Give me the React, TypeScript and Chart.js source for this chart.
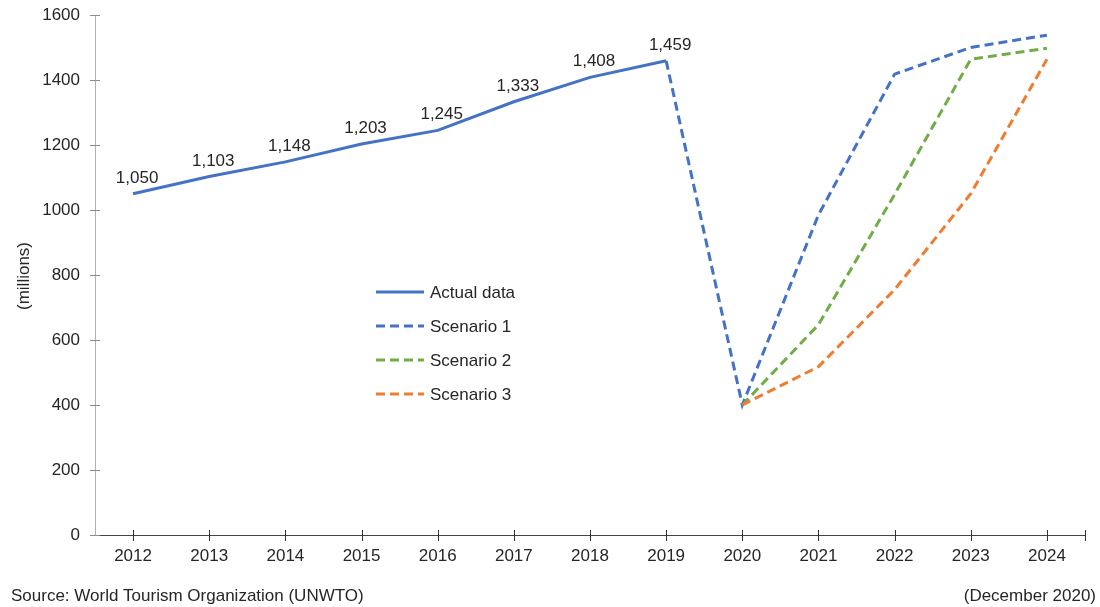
import React, { useEffect, useRef } from "react";
import { Chart, registerables } from "chart.js";

Chart.register(...registerables);

const years = ["2012", "2013", "2014", "2015", "2016", "2017", "2018", "2019", "2020", "2021", "2022", "2023", "2024"];
const actualData = [1050, 1103, 1148, 1203, 1245, 1333, 1408, 1459, null, null, null, null, null];
const scenario1 = [null, null, null, null, null, null, null, 1459, 400, 985, 1418, 1500, 1538];
const scenario2 = [null, null, null, null, null, null, null, null, 400, 647, 1048, 1464, 1498];
const scenario3 = [null, null, null, null, null, null, null, null, 400, 518, 755, 1050, 1464];
const seriesLabels = ["Actual data", "Scenario 1", "Scenario 2", "Scenario 3"];
const yTicks = [0, 200, 400, 600, 800, 1000, 1200, 1400, 1600];
const yTitle = "(millions)";
const sourceText = "Source: World Tourism Organization (UNWTO)";
const dateText = "(December 2020)";

const BLUE = "#4472C4";
const GREEN = "#70AD47";
const ORANGE = "#ED7D31";
const TEXT = "#262626";
const FONT_FAMILY = "'Liberation Sans', Arial, sans-serif";

const fmt = (v: number) => v.toLocaleString("en-US");

const extrasPlugin = {
  id: "extras",
  afterDraw(chart: any) {
    const ctx = chart.ctx as CanvasRenderingContext2D;
    const x = chart.scales.x;
    const y = chart.scales.y;
    const area = chart.chartArea;
    ctx.save();

    // y tick marks
    ctx.strokeStyle = "#8c8c8c";
    ctx.lineWidth = 1;
    yTicks.forEach((v) => {
      const py = Math.round(y.getPixelForValue(v)) + 0.5;
      ctx.beginPath();
      ctx.moveTo(area.left - 5, py);
      ctx.lineTo(area.left + 5, py);
      ctx.stroke();
    });

    // x tick marks
    ctx.strokeStyle = "#333";
    const xb = Math.round(area.bottom);
    const xPositions = years.map((_, i) => x.getPixelForValue(i));
    xPositions.push(area.right);
    xPositions.forEach((px) => {
      const rx = Math.round(px) + 0.5;
      ctx.beginPath();
      ctx.moveTo(rx, xb - 5);
      ctx.lineTo(rx, xb + 6);
      ctx.stroke();
    });

    // data labels for actual data
    ctx.fillStyle = TEXT;
    ctx.font = `17px ${FONT_FAMILY}`;
    ctx.textAlign = "center";
    ctx.textBaseline = "alphabetic";
    actualData.forEach((v, i) => {
      if (v == null) return;
      const px = x.getPixelForValue(i);
      const py = y.getPixelForValue(v);
      ctx.fillText(fmt(v), px + 4, py - 11);
    });

    // y title
    ctx.save();
    ctx.translate(24, 276);
    ctx.rotate(-Math.PI / 2);
    ctx.textAlign = "center";
    ctx.textBaseline = "middle";
    ctx.fillText(yTitle, 0, 0);
    ctx.restore();

    // legend
    const colors = [BLUE, BLUE, GREEN, ORANGE];
    const rowsY = [292, 326, 360, 394];
    seriesLabels.forEach((lab, i) => {
      const ly = rowsY[i];
      ctx.strokeStyle = colors[i];
      ctx.lineWidth = 3;
      ctx.setLineDash(i === 0 ? [] : [9, 5]);
      ctx.beginPath();
      ctx.moveTo(376, ly);
      ctx.lineTo(424, ly);
      ctx.stroke();
      ctx.setLineDash([]);
      ctx.fillStyle = TEXT;
      ctx.textAlign = "left";
      ctx.textBaseline = "middle";
      ctx.fillText(lab, 430, ly + 1);
    });

    // footer texts
    ctx.fillStyle = TEXT;
    ctx.textBaseline = "middle";
    ctx.textAlign = "left";
    ctx.fillText(sourceText, 11, 596);
    ctx.textAlign = "right";
    ctx.fillText(dateText, 1096, 596);

    ctx.restore();
  },
};

export default function App() {
  const ref = useRef<HTMLCanvasElement | null>(null);

  useEffect(() => {
    if (!ref.current) return;
    const chart = new Chart(ref.current, {
      type: "line",
      data: {
        labels: years,
        datasets: [
          {
            label: seriesLabels[0],
            data: actualData,
            borderColor: BLUE,
            borderWidth: 3,
            pointRadius: 0,
            fill: false,
            order: 0,
          },
          {
            label: seriesLabels[1],
            data: scenario1,
            borderColor: BLUE,
            borderWidth: 3,
            borderDash: [9, 5],
            pointRadius: 0,
            fill: false,
            order: 3,
          },
          {
            label: seriesLabels[2],
            data: scenario2,
            borderColor: GREEN,
            borderWidth: 3,
            borderDash: [9, 5],
            pointRadius: 0,
            fill: false,
            order: 2,
          },
          {
            label: seriesLabels[3],
            data: scenario3,
            borderColor: ORANGE,
            borderWidth: 3,
            borderDash: [9, 5],
            pointRadius: 0,
            fill: false,
            order: 1,
          },
        ],
      },
      options: {
        responsive: false,
        animation: false,
        spanGaps: false,
        layout: { padding: { top: 15, right: 15, bottom: 0, left: 0 } },
        plugins: {
          legend: { display: false },
          tooltip: { enabled: false },
          title: { display: false },
        },
        scales: {
          x: {
            type: "category",
            offset: true,
            grid: { display: false, drawTicks: false },
            border: { display: true, color: "#444", width: 1 },
            ticks: {
              color: TEXT,
              font: { size: 17, family: FONT_FAMILY },
              padding: 11,
              maxRotation: 0,
              autoSkip: false,
            },
            afterFit: (s: any) => {
              s.height = 72;
              s.paddingLeft = 0;
              s.paddingRight = 0;
            },
          },
          y: {
            min: 0,
            max: 1600,
            grid: { display: false, drawTicks: false },
            border: { display: true, color: "#b0b0b0", width: 1 },
            ticks: {
              stepSize: 200,
              color: TEXT,
              font: { size: 17, family: FONT_FAMILY },
              padding: 15,
              callback: (v: any) => String(v),
            },
            afterFit: (s: any) => {
              s.width = 95;
              s.paddingTop = 0;
              s.paddingBottom = 0;
            },
          },
        },
      },
      plugins: [extrasPlugin],
    });
    return () => chart.destroy();
  }, []);

  return (
    <div style={{ position: "absolute", left: 0, top: 0, width: 1100, height: 607, background: "#fff" }}>
      <canvas ref={ref} width={1100} height={607} style={{ display: "block" }} />
    </div>
  );
}
